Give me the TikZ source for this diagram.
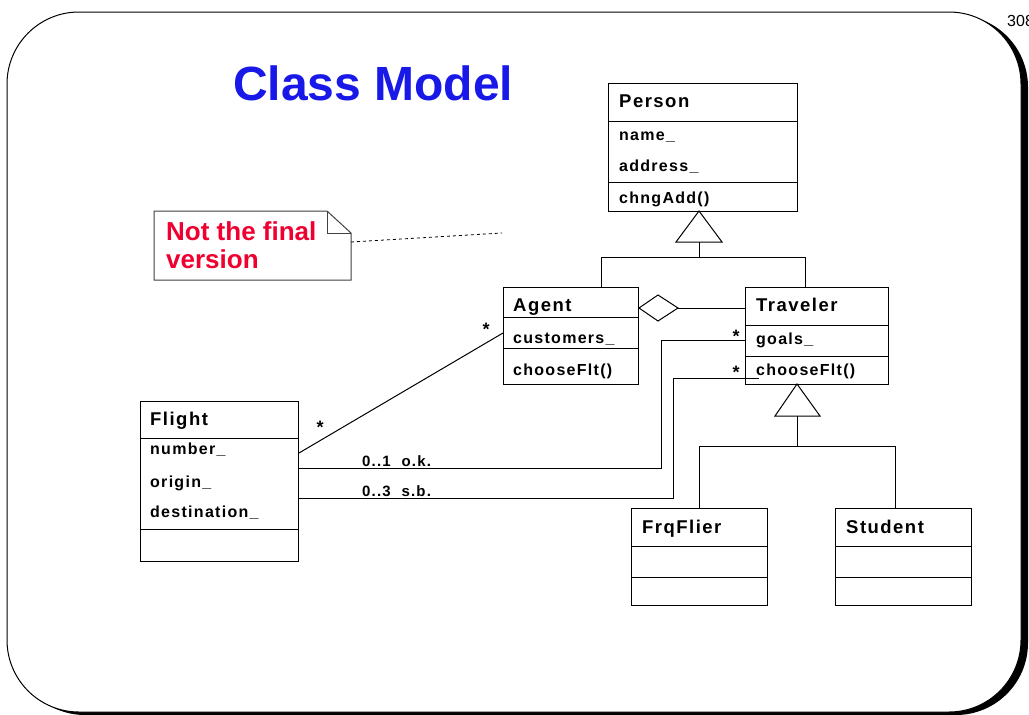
\documentclass[tikz,border=0pt]{standalone}
\usepackage{fontspec}
\setmainfont{Liberation Sans}
\newfontfamily\umlfont[LetterSpace=8]{Liberation Sans}
\definecolor{titleblue}{RGB}{24,24,232}
\definecolor{notered}{RGB}{240,0,48}

% class box: name, x, y, width, height, first divider, second divider
\newcommand\umlclass[7]{%
  \node[classbox, minimum width=#4pt, minimum height=#5pt] (#1) at (#2,#3) {};
  \draw[divider] ([yshift=-#6pt]#1.north west) -- ([yshift=-#6pt]#1.north east);
  \draw[divider] ([yshift=-#7pt]#1.north west) -- ([yshift=-#7pt]#1.north east);
}

\begin{document}
\begin{tikzpicture}[x=1pt, y=-1pt,
  classbox/.style={draw=black, line width=1pt, fill=white, inner sep=0pt, anchor=north west},
  divider/.style={line width=1pt},
  cname/.style={anchor=base west, inner sep=0pt, font=\umlfont\bfseries\fontsize{18.5}{20}\selectfont},
  cattr/.style={anchor=base west, inner sep=0pt, font=\umlfont\bfseries\fontsize{16}{18}\selectfont},
  mult/.style={anchor=base, inner sep=0pt, font=\bfseries\fontsize{18}{20}\selectfont},
  role/.style={anchor=base west, inner sep=0pt, font=\umlfont\bfseries\fontsize{15}{17}\selectfont},
  link/.style={line width=1pt},
  notetxt/.style={anchor=base west, inner sep=0pt, text=notered, font=\bfseries\fontsize{26}{28}\selectfont}
]
\useasboundingbox (0,0) rectangle (1029,715);

% slide frame with its drop shadow
\fill[black, rounded corners=72pt] (13,15) rectangle (1028,715);
\draw[fill=white, line width=1pt, rounded corners=72pt] (7,12) rectangle (1021,712);
\node[anchor=base west, inner sep=0pt, font=\fontsize{16}{18}\selectfont] (pageno) at (1007,26) {308};

% heading
\node[anchor=base west, inner sep=0pt, text=titleblue, font=\bfseries\fontsize{48}{52}\selectfont] (heading) at (233,100) {Class Model};

% note with folded corner
\coordinate (nw) at (154,211);
\coordinate (fold) at (327,211);
\coordinate (foldin) at (327,233);
\coordinate (ne) at (351,233);
\coordinate (se) at (351,280);
\coordinate (sw) at (154,280);
\draw[line width=1pt, draw=black!75, fill=white] (nw) -- (fold) -- (ne) -- (se) -- (sw) -- cycle;
\draw[line width=1pt, draw=black!75] (fold) -- (foldin) -- (ne);
\node[notetxt] (note1) at (166,240) {Not the final};
\node[notetxt] (note2) at (166,268) {version};
\coordinate (noteport) at (351,242);
\coordinate (noteend) at (502,233);
\draw[line width=0.8pt, dash pattern=on 3pt off 3pt] (noteport) -- (noteend);

% classes
\umlclass{person}{608}{83}{189}{128}{38}{99}
\node[cname] (person-n) at ([xshift=11pt,yshift=-24pt]person.north west) {Person};
\node[cattr] (person-a1) at ([xshift=11pt,yshift=-57pt]person.north west) {name\_};
\node[cattr] (person-a2) at ([xshift=11pt,yshift=-88pt]person.north west) {address\_};
\node[cattr] (person-o1) at ([xshift=11pt,yshift=-120pt]person.north west) {chngAdd()};

\umlclass{agent}{503}{287}{135}{97}{30}{61}
\node[cname] (agent-n) at ([xshift=10pt,yshift=-24pt]agent.north west) {Agent};
\node[cattr] (agent-a1) at ([xshift=10pt,yshift=-56pt]agent.north west) {customers\_};
\node[cattr] (agent-o1) at ([xshift=10pt,yshift=-88pt]agent.north west) {chooseFlt()};

\umlclass{traveler}{745}{287}{143}{97}{38}{69}
\node[cname] (traveler-n) at ([xshift=11pt,yshift=-24pt]traveler.north west) {Traveler};
\node[cattr] (traveler-a1) at ([xshift=11pt,yshift=-57pt]traveler.north west) {goals\_};
\node[cattr] (traveler-o1) at ([xshift=11pt,yshift=-88pt]traveler.north west) {chooseFlt()};

\umlclass{flight}{140}{401}{158}{160}{37}{128}
\node[cname] (flight-n) at ([xshift=10pt,yshift=-24pt]flight.north west) {Flight};
\node[cattr] (flight-a1) at ([xshift=10pt,yshift=-53pt]flight.north west) {number\_};
\node[cattr] (flight-a2) at ([xshift=10pt,yshift=-86pt]flight.north west) {origin\_};
\node[cattr] (flight-a3) at ([xshift=10pt,yshift=-116pt]flight.north west) {destination\_};

\umlclass{frqflier}{631}{508}{136}{97}{38}{69}
\node[cname] (frqflier-n) at ([xshift=11pt,yshift=-25pt]frqflier.north west) {FrqFlier};

\umlclass{student}{835}{508}{136}{97}{38}{69}
\node[cname] (student-n) at ([xshift=11pt,yshift=-25pt]student.north west) {Student};

% generalization: Agent and Traveler under Person
\coordinate (g1apex) at (699,211);
\coordinate (g1l) at (676,242);
\coordinate (g1r) at (722,242);
\coordinate (g1base) at (699,242);
\coordinate (g1bar) at (699,257);
\coordinate (agenttop) at (601,287);
\coordinate (travtop) at (805,287);
\draw[link, fill=white] (g1apex) -- (g1l) -- (g1r) -- cycle;
\draw[link] (g1base) -- (g1bar);
\draw[link] (agenttop) -- (agenttop |- g1bar) -- (travtop |- g1bar) -- (travtop);

% generalization: FrqFlier and Student under Traveler
\coordinate (g2apex) at (797,384);
\coordinate (g2l) at (775,416);
\coordinate (g2r) at (820,416);
\coordinate (g2base) at (797,416);
\coordinate (g2bar) at (797,446);
\coordinate (frqtop) at (699,508);
\coordinate (studtop) at (895,508);
\draw[link, fill=white] (g2apex) -- (g2l) -- (g2r) -- cycle;
\draw[link] (g2base) -- (g2bar);
\draw[link] (frqtop) -- (frqtop |- g2bar) -- (studtop |- g2bar) -- (studtop);

% aggregation Agent <>--- Traveler
\coordinate (dl) at ([yshift=-21pt]agent.north east);
\coordinate (dt) at (658,295);
\coordinate (dr) at (678,308);
\coordinate (db) at (658,321);
\draw[link, fill=white] (dl) -- (dt) -- (dr) -- (db) -- cycle;
\draw[link] (dr) -- (traveler.west |- dr);

% association Agent -- Flight
\coordinate (agentport) at ([yshift=-46pt]agent.north west);
\coordinate (flightport) at ([yshift=-52pt]flight.north east);
\draw[link] (agentport) -- (flightport);
\node[mult] (m-agent) at (486,335) {*};
\node[mult] (m-flight) at (320,433) {*};

% associations Flight -- Traveler
\coordinate (f1) at ([yshift=-67pt]flight.north east);
\coordinate (t1) at ([yshift=-53pt]traveler.north west);
\coordinate (j1) at (661,0);
\draw[link] (f1) -| (j1 |- t1) -- (t1);
\coordinate (f2) at ([yshift=-97pt]flight.north east);
\coordinate (t2) at ([xshift=14pt,yshift=-91pt]traveler.north west);
\coordinate (j2) at (673,0);
\draw[link] (f2) -| (j2 |- t2) -- (t2);
\node[role] (r-ok) at (362,466) {0..1\ \ o.k.};
\node[role] (r-sb) at (362,496) {0..3\ \ s.b.};
\node[mult] (m-t1) at (736,342) {*};
\node[mult] (m-t2) at (736,378) {*};

\end{tikzpicture}
\end{document}
